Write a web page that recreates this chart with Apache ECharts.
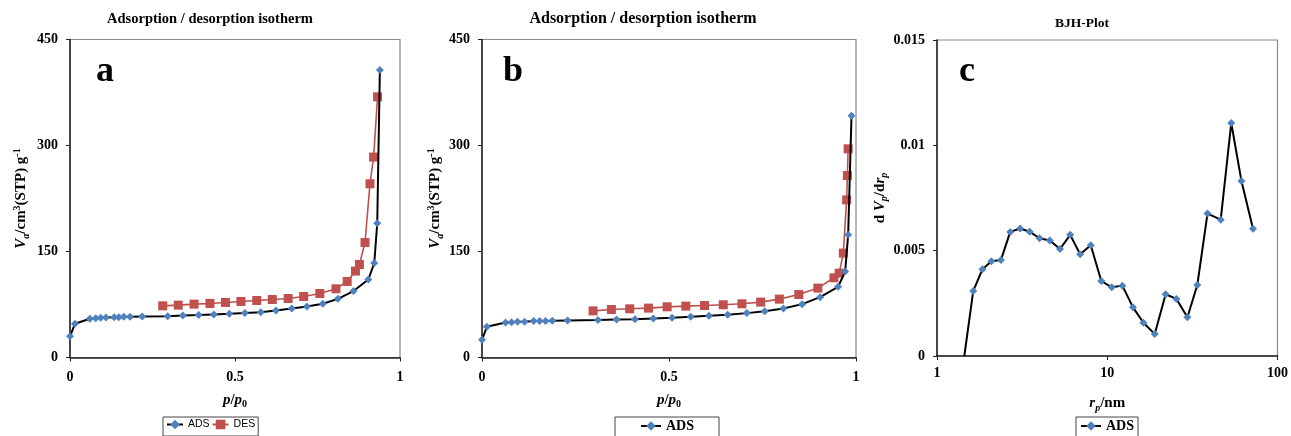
<!DOCTYPE html>
<html>
<head>
<meta charset="utf-8">
<script src="https://cdn.jsdelivr.net/npm/echarts@6/dist/echarts.min.js"></script>
<style>
  html, body { margin: 0; padding: 0; background: #fff; }
  #chart { width: 1291px; height: 436px; }
</style>
</head>
<body>
<div id="chart"></div>
<script>
// panel a - isotherm
var aAdsP = [0, 0.015, 0.06, 0.078, 0.093, 0.109, 0.134, 0.148, 0.163, 0.182, 0.219, 0.296, 0.342, 0.39, 0.436, 0.483, 0.53, 0.578, 0.624, 0.672, 0.718, 0.766, 0.812, 0.859, 0.904, 0.922, 0.931, 0.939];
var aAdsV = [30, 47.7, 54.8, 55.7, 56.2, 56.6, 57.1, 57.1, 57.6, 57.6, 58, 58.5, 59.4, 60, 60.9, 61.8, 62.8, 64.2, 66.5, 69.4, 72.2, 76, 83, 94, 110.4, 133.6, 190, 406.7];
var aDesP = [0.281, 0.328, 0.376, 0.424, 0.471, 0.518, 0.566, 0.613, 0.661, 0.708, 0.757, 0.806, 0.84, 0.865, 0.877, 0.894, 0.909, 0.92, 0.932];
var aDesV = [73.1, 74.1, 75.5, 76.5, 77.9, 79.3, 80.7, 82.1, 83.5, 86.3, 90.6, 97.2, 107.6, 122.3, 131.6, 162.7, 245.8, 283.6, 368.9];

// panel b - isotherm
var bAdsP = [0, 0.013, 0.063, 0.079, 0.095, 0.114, 0.138, 0.154, 0.17, 0.188, 0.229, 0.31, 0.36, 0.409, 0.458, 0.508, 0.558, 0.607, 0.657, 0.708, 0.756, 0.806, 0.856, 0.904, 0.952, 0.971, 0.979, 0.988];
var bAdsV = [25, 43.4, 49.5, 50, 50.5, 50.5, 51.5, 51.5, 51.5, 52, 52.5, 52.9, 53.8, 54.3, 55.2, 56.2, 57.6, 59, 60.4, 62.8, 65.6, 69.4, 75.5, 85.4, 100, 121.7, 173.6, 342];
var bDesP = [0.297, 0.346, 0.395, 0.445, 0.495, 0.545, 0.595, 0.645, 0.695, 0.745, 0.795, 0.847, 0.898, 0.941, 0.955, 0.966, 0.975, 0.977, 0.979];
var bDesV = [66, 67.9, 68.9, 69.9, 71.7, 72.7, 73.6, 74.6, 76, 78.4, 82.6, 89.1, 98.2, 112.8, 119.4, 147.7, 223, 257.5, 295.3];

// panel c - BJH
var cR = [1.447, 1.633, 1.851, 2.088, 2.375, 2.693, 3.078, 3.501, 4.002, 4.6, 5.28, 6.06, 6.93, 8.0, 9.23, 10.63, 12.27, 14.16, 16.32, 19.01, 22.03, 25.5, 29.58, 33.8, 38.8, 46.4, 53.5, 61.4, 71.8];
var cDv = [0, 0.00309, 0.00412, 0.0045, 0.00456, 0.00589, 0.00605, 0.0059, 0.00559, 0.00548, 0.00508, 0.00575, 0.00483, 0.00526, 0.00356, 0.00326, 0.00334, 0.00231, 0.00158, 0.00104, 0.00293, 0.00271, 0.00184, 0.00337, 0.00676, 0.00647, 0.01106, 0.00831, 0.00604];

var titles = ['Adsorption / desorption isotherm', 'Adsorption / desorption isotherm', 'BJH-Plot'];
var letters = ['a', 'b', 'c'];

function zip(xs, ys) {
    return xs.map(function (x, i) { return [x, ys[i]]; });
}

var SERIF = '"Liberation Serif", "Times New Roman", serif';
var ADS_BLUE = '#4f81bd';
var DES_RED = '#c0504d';

var nameRich = {
    n: { fontFamily: SERIF, fontWeight: 'bold', fontSize: 15, color: '#000', lineHeight: 19 },
    i: { fontFamily: SERIF, fontWeight: 'bold', fontStyle: 'italic', fontSize: 15, color: '#000', lineHeight: 19 },
    sub: { fontFamily: SERIF, fontWeight: 'bold', fontSize: 10, color: '#000', verticalAlign: 'bottom', lineHeight: 19 },
    subi: { fontFamily: SERIF, fontWeight: 'bold', fontStyle: 'italic', fontSize: 10, color: '#000', verticalAlign: 'bottom', lineHeight: 19 },
    sup: { fontFamily: SERIF, fontWeight: 'bold', fontSize: 10, color: '#000', verticalAlign: 'top', lineHeight: 19 }
};

var axisLabelStyle = { fontFamily: SERIF, fontWeight: 'bold', fontSize: 14, color: '#000', margin: 12 };
var axisLineStyle = { show: true, lineStyle: { color: '#222', width: 1.5 } };
var tickStyle = { show: true, length: 4, lineStyle: { color: '#222' } };

function xIso(idx, gap) {
    return {
        type: 'value', gridIndex: idx, min: 0, max: 1, interval: 0.5,
        axisLine: axisLineStyle, axisTick: tickStyle, splitLine: { show: false },
        axisLabel: Object.assign({}, axisLabelStyle, { margin: 13 }),
        name: '{i|p}{n|/}{i|p}{sub|0}', nameLocation: 'middle', nameGap: gap,
        nameTextStyle: { rich: nameRich }
    };
}

function yIso(idx, gap) {
    return {
        type: 'value', gridIndex: idx, min: 0, max: 450, interval: 150,
        axisLine: axisLineStyle, axisTick: tickStyle, splitLine: { show: false },
        axisLabel: axisLabelStyle,
        name: '{i|V}{subi|a}{n|/cm}{sup|3}{n|(STP) g}{sup|-1}', nameLocation: 'middle',
        nameRotate: 90, nameGap: gap, nameTextStyle: { rich: nameRich }
    };
}

function legendBox(left, names, font) {
    return {
        left: left, top: 417, data: names,
        orient: 'horizontal', itemWidth: 20, itemHeight: 12, itemGap: 4,
        borderColor: '#444', borderWidth: 1, padding: [2, 4, 6, 4],
        backgroundColor: '#fff',
        textStyle: font
    };
}

var sansLegend = { fontFamily: '"Liberation Sans", Arial, sans-serif', fontSize: 10.5, color: '#000' };
var serifLegend = { fontFamily: SERIF, fontWeight: 'bold', fontSize: 14, color: '#000' };

function ads(xi, yi, data) {
    return {
        name: 'ADS', type: 'line', xAxisIndex: xi, yAxisIndex: yi, data: data,
        symbol: 'diamond', symbolSize: 8, showSymbol: true,
        lineStyle: { color: '#000', width: 2 },
        itemStyle: { color: ADS_BLUE },
        animation: false, z: 3
    };
}

function des(xi, yi, data) {
    return {
        name: 'DES', type: 'line', xAxisIndex: xi, yAxisIndex: yi, data: data,
        symbol: 'rect', symbolSize: 9, showSymbol: true,
        lineStyle: { color: DES_RED, width: 1.6 },
        itemStyle: { color: DES_RED },
        animation: false, z: 2
    };
}

var chart = echarts.init(document.getElementById('chart'));

var option = {
    backgroundColor: '#fff',
    animation: false,
    title: [
        { text: titles[0], left: 210, textAlign: 'center', top: 12, padding: 0,
          textStyle: { fontFamily: SERIF, fontWeight: 'bold', fontSize: 14.5, color: '#000' } },
        { text: titles[1], left: 643, textAlign: 'center', top: 11, padding: 0,
          textStyle: { fontFamily: SERIF, fontWeight: 'bold', fontSize: 16, color: '#000' } },
        { text: titles[2], left: 1082, textAlign: 'center', top: 17, padding: 0,
          textStyle: { fontFamily: SERIF, fontWeight: 'bold', fontSize: 13.5, color: '#000' } },
        { text: letters[0], left: 96, top: 54, padding: 0,
          textStyle: { fontFamily: SERIF, fontWeight: 'bold', fontSize: 36, color: '#000' } },
        { text: letters[1], left: 503, top: 54, padding: 0,
          textStyle: { fontFamily: SERIF, fontWeight: 'bold', fontSize: 36, color: '#000' } },
        { text: letters[2], left: 959, top: 54, padding: 0,
          textStyle: { fontFamily: SERIF, fontWeight: 'bold', fontSize: 36, color: '#000' } }
    ],
    legend: [
        Object.assign(legendBox(163, ['ADS', 'DES'], sansLegend), { itemWidth: 16, itemGap: 2, padding: [2, 3, 6, 3] }),
        Object.assign(legendBox(615, ['ADS'], serifLegend), { padding: [2, 25, 6, 25] }),
        legendBox(1076, ['ADS'], serifLegend)
    ],
    grid: [
        { left: 70, top: 39.5, width: 330, height: 318, show: true, borderColor: '#888', borderWidth: 1.2 },
        { left: 482, top: 39.5, width: 374, height: 318, show: true, borderColor: '#888', borderWidth: 1.2 },
        { left: 937, top: 40, width: 344, height: 316, show: true, borderColor: '#888', borderWidth: 1.2 }
    ],
    xAxis: [
        xIso(0, 33),
        xIso(1, 33),
        {
            type: 'log', gridIndex: 2, min: 1, max: 100, logBase: 10,
            axisLine: axisLineStyle, axisTick: tickStyle, splitLine: { show: false },
            minorTick: { show: false },
            axisLabel: Object.assign({}, axisLabelStyle, { margin: 10 }),
            name: '{i|r}{subi|p}{n|/nm}', nameLocation: 'middle', nameGap: 38,
            nameTextStyle: { rich: nameRich }
        }
    ],
    yAxis: [
        yIso(0, 39),
        yIso(1, 36),
        {
            type: 'value', gridIndex: 2, min: 0, max: 0.015, interval: 0.005,
            axisLine: axisLineStyle, axisTick: tickStyle, splitLine: { show: false },
            axisLabel: axisLabelStyle,
            name: '{n|d }{i|V}{subi|p}{n|/d}{i|r}{subi|p}', nameLocation: 'middle',
            nameRotate: 90, nameGap: 39, nameTextStyle: { rich: nameRich }
        }
    ],
    series: [
        des(0, 0, zip(aDesP, aDesV)),
        ads(0, 0, zip(aAdsP, aAdsV)),
        des(1, 1, zip(bDesP, bDesV)),
        ads(1, 1, zip(bAdsP, bAdsV)),
        Object.assign(ads(2, 2, zip(cR, cDv)), {
            symbolSize: function (v) { return v[1] === 0 ? 0 : 8; }
        })
    ]
};

chart.setOption(option);

window.addEventListener('resize', function () {
    chart.resize();
});
</script>
</body>
</html>
